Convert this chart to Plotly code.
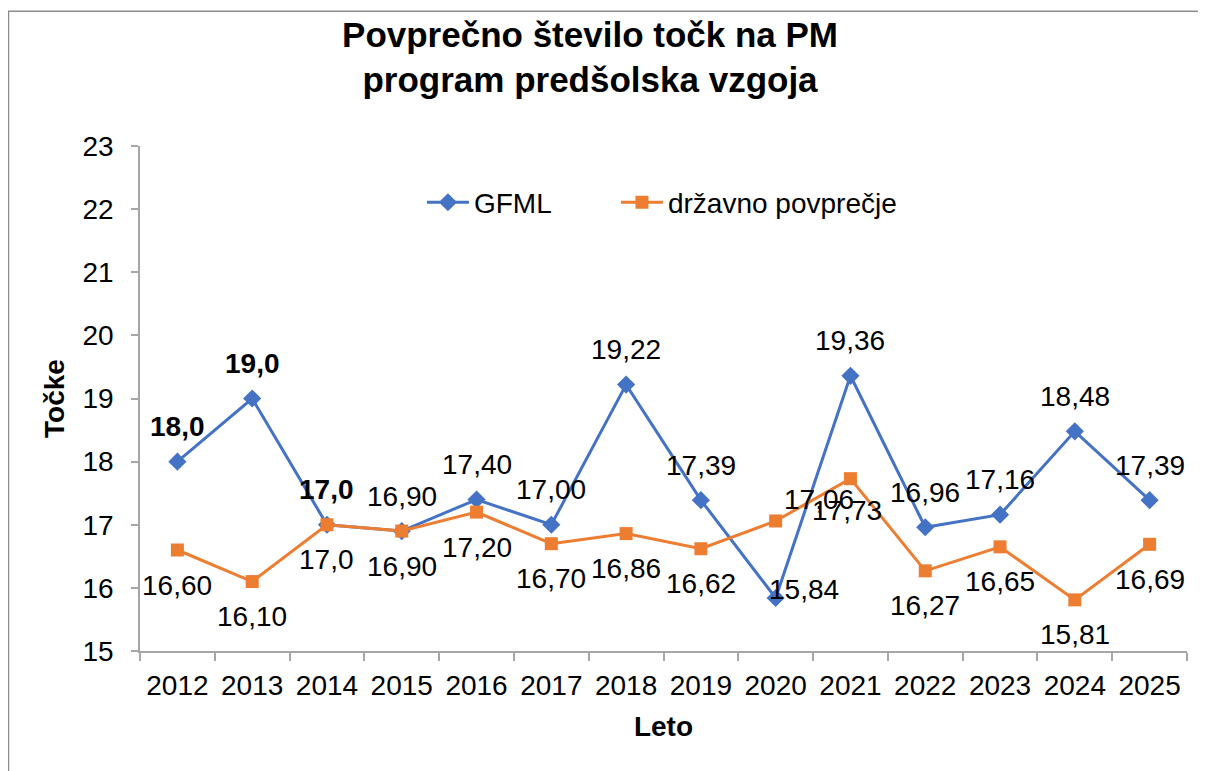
import plotly.graph_objects as go

years = ["2012", "2013", "2014", "2015", "2016", "2017", "2018",
         "2019", "2020", "2021", "2022", "2023", "2024", "2025"]
gfml = [18.0, 19.0, 17.0, 16.90, 17.40, 17.00, 19.22, 17.39, 15.84, 19.36, 16.96, 17.16, 18.48, 17.39]
drzavno = [16.60, 16.10, 17.0, 16.90, 17.20, 16.70, 16.86, 16.62, 17.06, 17.73, 16.27, 16.65, 15.81, 16.69]
gfml_labels = ["18,0", "19,0", "17,0", "16,90", "17,40", "17,00", "19,22", "17,39",
               "15,84", "19,36", "16,96", "17,16", "18,48", "17,39"]
drzavno_labels = ["16,60", "16,10", "17,0", "16,90", "17,20", "16,70", "16,86", "16,62",
                  "17,06", "17,73", "16,27", "16,65", "15,81", "16,69"]
gfml_bold = [True, True, True] + [False] * 11

# label offsets (pixels): (xshift, yshift)
gfml_shift = [(0, 35)] * 14
gfml_shift[8] = (28, 8)
drz_shift = [(0, -35)] * 14
drz_shift[8] = (43, 21)
drz_shift[9] = (-3, -32)

BLUE = "#4472C4"
ORANGE = "#ED7D31"
FONT = "Liberation Sans, Arial, sans-serif"
AXIS = "#a6a6a6"
FS = 28

fig = go.Figure()
fig.add_trace(go.Scatter(
    x=years, y=gfml, name="GFML", mode="lines+markers",
    line=dict(color=BLUE, width=3),
    marker=dict(symbol="diamond", size=14, color=BLUE),
    legend="legend",
))
fig.add_trace(go.Scatter(
    x=years, y=drzavno, name="državno povprečje", mode="lines+markers",
    line=dict(color=ORANGE, width=3),
    marker=dict(symbol="square", size=13, color=ORANGE),
    legend="legend2",
))

annotations = []
for i, (y, t, b, (dx, dy)) in enumerate(zip(gfml, gfml_labels, gfml_bold, gfml_shift)):
    annotations.append(dict(
        x=i, y=y, text=f"<b>{t}</b>" if b else t, showarrow=False,
        xshift=dx, yshift=dy, font=dict(size=FS, color="black", family=FONT),
    ))
for i, (y, t, (dx, dy)) in enumerate(zip(drzavno, drzavno_labels, drz_shift)):
    annotations.append(dict(
        x=i, y=y, text=t, showarrow=False,
        xshift=dx, yshift=dy, font=dict(size=FS, color="black", family=FONT),
    ))

legend_style = dict(
    orientation="h", xanchor="left", y=0.888, yanchor="middle",
    font=dict(size=FS, color="black"), bgcolor="rgba(0,0,0,0)",
    itemwidth=42,
)

fig.update_layout(
    width=1206, height=771,
    margin=dict(l=132, r=27, t=138, b=128, autoexpand=False),
    paper_bgcolor="white", plot_bgcolor="white",
    font=dict(family=FONT, size=FS, color="black"),
    title=dict(
        text="<b>Povprečno število točk na PM<br>program predšolska vzgoja</b>",
        x=0.4826, xanchor="center", y=0.950, yanchor="middle",
        font=dict(size=35, color="black", family=FONT),
    ),
    legend=dict(x=0.2693, **legend_style),
    legend2=dict(x=0.4546, **legend_style),
    showlegend=True,
    annotations=annotations,
    shapes=[dict(
        type="rect", xref="paper", yref="paper",
        x0=-0.1256, x1=1.2, y0=-0.5, y1=1.267,
        line=dict(color="#8c8c8c", width=1.5), layer="below",
    )],
)

fig.update_xaxes(
    type="category", tickson="boundaries", range=[-0.5, 13.5],
    showline=True, linecolor=AXIS, linewidth=1.5,
    ticks="outside", ticklen=8, tickcolor=AXIS, tickwidth=1.5,
    showgrid=False, zeroline=False, tickangle=0,
    tickfont=dict(size=FS), ticklabelstandoff=9,
    title=dict(text="<b>Leto</b>", font=dict(size=FS), standoff=16),
)
fig.update_yaxes(
    range=[15, 23], dtick=1,
    showline=True, linecolor=AXIS, linewidth=1.5,
    ticks="outside", ticklen=7, tickcolor=AXIS, tickwidth=1.5,
    showgrid=False, zeroline=False,
    tickfont=dict(size=FS), ticklabelstandoff=12,
    title=dict(text="<b>Točke</b>", font=dict(size=FS), standoff=10),
)

fig.write_html("out.html")
